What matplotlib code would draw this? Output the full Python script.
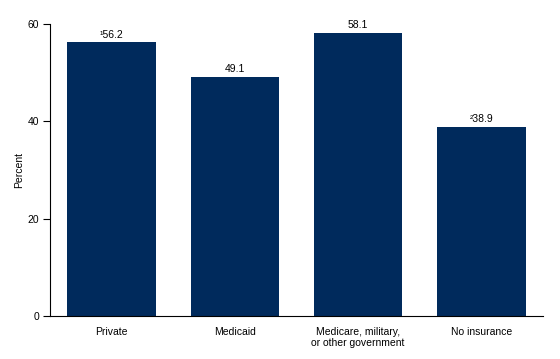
import matplotlib
matplotlib.use("Agg")
import matplotlib.pyplot as plt

categories = ["Private", "Medicaid", "Medicare, military,\nor other government", "No insurance"]
values = [56.2, 49.1, 58.1, 38.9]
labels = ["\u00b956.2", "49.1", "58.1", "\u00b238.9"]
yticks = [0, 20, 40, 60]

plt.rcParams['font.family'] = ['Liberation Sans', 'DejaVu Sans']

fig = plt.figure(figsize=(5.6, 3.59), dpi=100)
ax = fig.add_axes([50/560, 1-316/359, 493/560, 292/359])
x = list(range(len(categories)))
bars = ax.bar(x, values, width=0.72, color="#002a5c", edgecolor="none")
for xi, v, lab in zip(x, values, labels):
    ax.text(xi, v + 0.6, lab, ha="center", va="bottom", fontsize=7.5, color="black")

ax.set_xlim(-0.5, 3.5)
ax.set_ylim(0, 60)
ax.set_yticks(yticks)
ax.set_xticks(x)
ax.set_xticklabels(categories, fontsize=7.5, linespacing=1.1)
ax.tick_params(axis="x", length=0, pad=8)
ax.tick_params(axis="y", length=5, width=0.8, labelsize=7.5, direction="out", pad=3)
for s in ["top", "right"]:
    ax.spines[s].set_visible(False)
for s in ["left", "bottom"]:
    ax.spines[s].set_linewidth(0.8)
ax.set_ylabel("Percent", fontsize=7.5, labelpad=2)
fig.savefig("out.png", dpi=100)
